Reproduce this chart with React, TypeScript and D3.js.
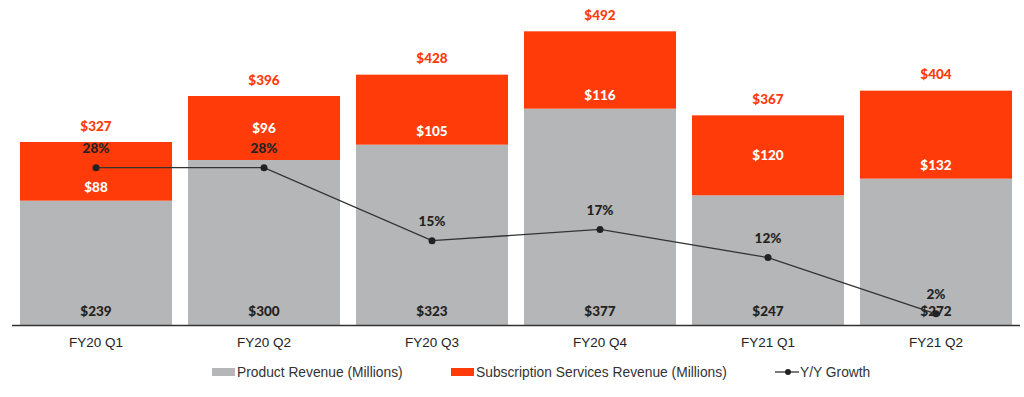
import React from "react";
import * as d3 from "d3";

const quarters = ["FY20 Q1", "FY20 Q2", "FY20 Q3", "FY20 Q4", "FY21 Q1", "FY21 Q2"];
const productRevenue = [239, 300, 323, 377, 247, 272];
const subscriptionRevenue = [88, 96, 105, 116, 120, 132];
const totalRevenue = [327, 396, 428, 492, 367, 404];
const yoyGrowth = [28, 28, 15, 17, 12, 2];
// where the subscription label sits in its segment
const subLabelMiddle = [false, true, false, false, true, false];

const W = 1024;
const H = 397;
const ORANGE = "#ff3b0a";
const GRAY = "#b5b6b8";
const DARK = "#222222";
const BOLD_FONT = "Lato, 'Open Sans', sans-serif";
const FONT = "'Liberation Sans', Arial, sans-serif";

const App = () => {
  const x = d3
    .scaleBand<string>()
    .domain(quarters)
    .range([12, 1020])
    .paddingInner(0.095)
    .paddingOuter(0.0475);

  // value axis does not start at zero in the source
  const y = d3.scaleLinear().domain([52.5, 492]).range([325, 32]);
  const yGrowth = d3.scaleLinear().domain([0, 50]).range([325, 44]);

  const line = d3
    .line<number>()
    .x((_, i) => x(quarters[i])! + x.bandwidth() / 2)
    .y((d) => yGrowth(d));

  const baseY = y.range()[0];

  return (
    <svg
      width={W}
      height={H}
      style={{ position: "absolute", left: 0, top: 0, background: "#fff" }}
      fontFamily={BOLD_FONT}
    >
      {quarters.map((q, i) => {
        const x0 = x(q)!;
        const bw = x.bandwidth();
        const cx = x0 + bw / 2;
        const grayTop = y(productRevenue[i]);
        const topY = y(productRevenue[i] + subscriptionRevenue[i]);
        const subY = subLabelMiddle[i] ? (grayTop + topY) / 2 : grayTop - 13;
        return (
          <g key={q}>
            <rect x={x0} y={grayTop} width={bw} height={baseY - grayTop} fill={GRAY} />
            <rect x={x0} y={topY} width={bw} height={grayTop - topY} fill={ORANGE} />
            <text x={cx} y={topY - 16} textAnchor="middle" dy="0.35em" fill={ORANGE} fontSize={13.5} fontWeight={900}>
              ${totalRevenue[i]}
            </text>
            <text x={cx} y={subY} textAnchor="middle" dy="0.35em" fill="#fff" fontSize={13.5} fontWeight={900}>
              ${subscriptionRevenue[i]}
            </text>
            <text x={cx} y={baseY - 14} textAnchor="middle" dy="0.35em" fill={DARK} fontSize={13.5} fontWeight={900}>
              ${productRevenue[i]}
            </text>
            <text x={cx} y={342} textAnchor="middle" dy="0.35em" fill={DARK} fontSize={13.5} fontFamily={FONT}>
              {q}
            </text>
          </g>
        );
      })}

      <line x1={12} x2={1020} y1={baseY + 0.5} y2={baseY + 0.5} stroke="#333" strokeWidth={1.5} />

      <path d={line(yoyGrowth) ?? ""} fill="none" stroke="#333" strokeWidth={1.3} />
      {yoyGrowth.map((g, i) => {
        const cx = x(quarters[i])! + x.bandwidth() / 2;
        const cy = yGrowth(g);
        return (
          <g key={"g" + i}>
            <circle cx={cx} cy={cy} r={3.5} fill="#222" />
            <text x={cx} y={cy - 19} textAnchor="middle" dy="0.35em" fill={DARK} fontSize={13.5} fontWeight={900}>
              {g}%
            </text>
          </g>
        );
      })}

      <g fontSize={13.8} fill="#333" fontFamily={FONT}>
        <rect x={212} y={368} width={23} height={8} fill={GRAY} />
        <text x={237} y={372} dy="0.35em">Product Revenue (Millions)</text>
        <rect x={451} y={368} width={23} height={8} fill={ORANGE} />
        <text x={476} y={372} dy="0.35em">Subscription Services Revenue (Millions)</text>
        <line x1={775} x2={799} y1={372} y2={372} stroke="#333" strokeWidth={1.3} />
        <circle cx={788} cy={372} r={3} fill="#222" />
        <text x={800} y={372} dy="0.35em">Y/Y Growth</text>
      </g>
    </svg>
  );
};

export default App;
